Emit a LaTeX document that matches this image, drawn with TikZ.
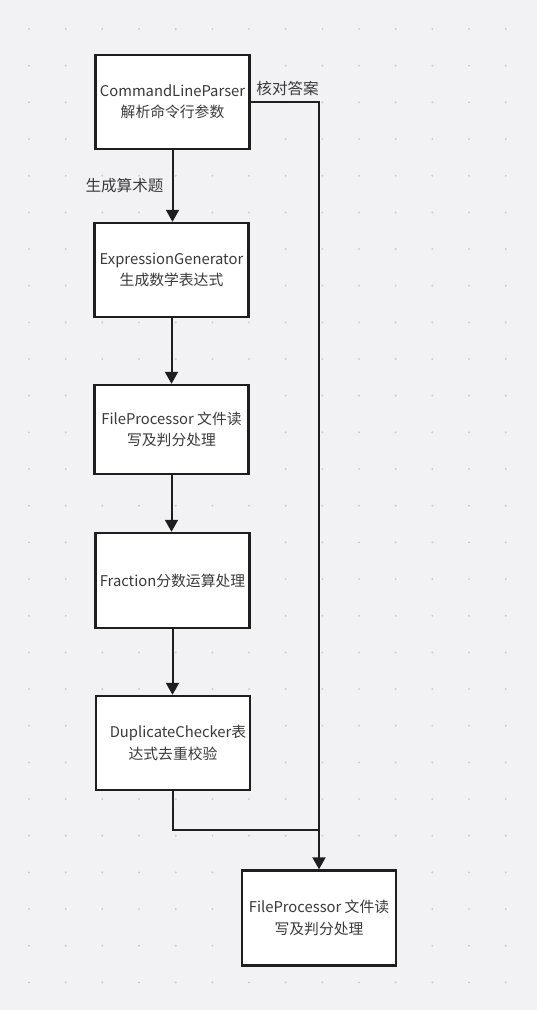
\documentclass[tikz,border=0pt]{standalone}
\usepackage{fontspec}
\setmainfont{Noto Sans CJK SC}
\usepackage{tikz}
\usetikzlibrary{arrows.meta,positioning}
\definecolor{bgc}{HTML}{F2F2F4}
\definecolor{dotc}{HTML}{CDCDD1}
\definecolor{inkc}{HTML}{1E1E1E}
\definecolor{txtc}{HTML}{3A3A3A}

\begin{document}
\begin{tikzpicture}[
  x=1pt,y=-1pt,
  box/.style={draw=inkc,line width=2.4pt,fill=white,align=center,text=txtc,
    font=\fontsize{14.8}{21.3}\selectfont,minimum width=154pt,minimum height=94pt,inner sep=2pt},
  flow/.style={inkc,line width=2pt},
  arr/.style={flow,-{Triangle[length=12pt,width=13pt]}},
  lbl/.style={text=txtc,font=\fontsize{15.6}{18}\selectfont,inner sep=2pt}
]
  \useasboundingbox (0,0) rectangle (537,1010);
  \fill[bgc] (0,0) rectangle (537,1010);
  \foreach \i in {0,...,13}
    \foreach \j in {0,...,26}
      \fill[dotc] (29+36.67*\i,29+36.67*\j) circle (1.1);

  \node[box] (parser) at (172.5,102)  {CommandLineParser\\解析命令行参数};
  \node[box] (gen)    at (171.5,270)  {ExpressionGenerator\\生成数学表达式};
  \node[box,minimum height=89pt] (fp1) at (171.5,429.5) {FileProcessor 文件读\\写及判分处理};
  \node[box,minimum height=95pt] (frac) at (172.5,580.5) {Fraction分数运算处理};
  \node[box] (dup)    at (173,743)    {\hspace*{10pt}DuplicateChecker表\\达式去重校验};
  \node[box,minimum height=95pt] (fp2) at (319,918) {FileProcessor 文件读\\写及判分处理};

  \draw[arr] (parser.south) -- node[lbl,left=6pt]{生成算术题} (parser.south |- gen.north);
  \draw[arr] (gen.south) -- (gen.south |- fp1.north);
  \draw[arr] (fp1.south) -- (fp1.south |- frac.north);
  \draw[arr] (frac.south) -- (frac.south |- dup.north);

  \coordinate (join) at (fp2.north |- 0,830);
  \draw[arr] (parser.east) -| node[lbl,pos=0.02,above right=3pt and 0pt]{核对答案} (fp2.north);
  \draw[flow] (dup.south) |- (join);
\end{tikzpicture}
\end{document}
